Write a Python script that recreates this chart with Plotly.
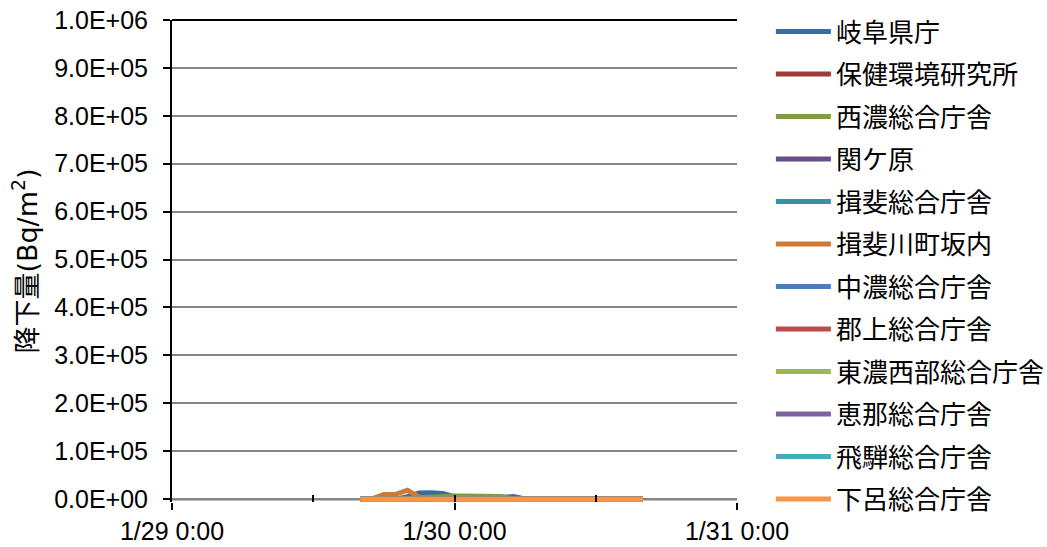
import plotly.graph_objects as go
import pandas as pd

# ---- data ----
TIMES = pd.date_range("2011-01-29 16:00", "2011-01-30 16:00", freq="h")

SERIES_NAMES = ["岐阜県庁", "保健環境研究所", "西濃総合庁舎", "関ケ原", "揖斐総合庁舎",
                "揖斐川町坂内", "中濃総合庁舎", "郡上総合庁舎", "東濃西部総合庁舎",
                "恵那総合庁舎", "飛騨総合庁舎", "下呂総合庁舎"]

#            16   17   18    19    20     21     22     23     0     1     2     3     4     5     6    7    8    9    10   11   12   13   14   15   16
gifu     = [0, 0, 0, 0, 5000, 13000, 13500, 12000, 5000, 2000, 1500, 1500, 4000, 5500, 500, 0, 0, 0, 0, 0, 0, 0, 0, 0, 0]
hoken    = [0, 0, 0, 0, 500, 800, 600, 500, 400, 300, 200, 200, 100, 100, 0, 0, 0, 0, 0, 0, 0, 0, 0, 0, 0]
seino    = [0, 0, 0, 0, 1000, 3000, 5000, 6000, 6500, 6500, 6500, 6000, 5500, 500, 0, 0, 0, 0, 0, 0, 0, 0, 0, 0, 0]
sekigahara = [0, 0, 0, 0, 500, 1000, 1000, 800, 500, 400, 300, 200, 100, 0, 0, 0, 0, 0, 0, 0, 0, 0, 0, 0, 0]
ibi      = [0, 0, 0, 500, 1500, 1500, 1000, 800, 600, 400, 300, 200, 100, 0, 0, 0, 0, 0, 0, 0, 0, 0, 0, 0, 0]
sakauchi = [0, 500, 9500, 10000, 18500, 4000, 0, 0, 0, 0, 0, 0, 0, 0, 0, 0, 0, 0, 0, 0, 0, 0, 0, 0, 0]
chuno    = [0, 0, 0, 0, 500, 1000, 1500, 1500, 1000, 800, 500, 300, 200, 100, 0, 0, 0, 0, 0, 0, 0, 0, 0, 0, 0]
gujo     = [0, 0, 0, 0, 300, 500, 800, 600, 400, 300, 200, 100, 0, 0, 0, 0, 0, 0, 0, 0, 0, 0, 0, 0, 0]
tono     = [0, 0, 0, 0, 0, 200, 400, 600, 800, 600, 400, 200, 100, 0, 0, 0, 0, 0, 0, 0, 0, 0, 0, 0, 0]
ena      = [0, 0, 0, 0, 0, 100, 300, 500, 600, 500, 300, 200, 100, 0, 0, 0, 0, 0, 0, 0, 0, 0, 0, 0, 0]
hida     = [0, 0, 0, 0, 0, 100, 200, 300, 300, 200, 100, 100, 0, 0, 0, 0, 0, 0, 0, 0, 0, 0, 0, 0, 0]
gero     = [0, 0, 0, 0, 0, 0, 100, 200, 200, 200, 100, 0, 0, 0, 0, 0, 0, 0, 0, 0, 0, 0, 0, 0, 0]

SERIES_VALUES = [gifu, hoken, seino, sekigahara, ibi, sakauchi, chuno, gujo, tono, ena, hida, gero]

COLORS = ["#3C6AA5", "#9E3B38", "#7E9D45", "#664F88", "#3792A8", "#CF7A33",
          "#4A7EBB", "#BE4B48", "#98B954", "#7D60A0", "#46AAC5", "#F79646"]

Y_TICK_VALUES = [0, 100000, 200000, 300000, 400000, 500000, 600000, 700000, 800000, 900000, 1000000]
Y_TICK_LABELS = ["0.0E+00", "1.0E+05", "2.0E+05", "3.0E+05", "4.0E+05", "5.0E+05",
                 "6.0E+05", "7.0E+05", "8.0E+05", "9.0E+05", "1.0E+06"]
# small padding below zero so the thick zero-level lines are not clipped in half
Y_RANGE = [-6000, 1000000]

X_RANGE = ["2011-01-29 00:00", "2011-01-31 00:00"]
X_TICK_VALUES = ["2011-01-29 00:00", "2011-01-30 00:00", "2011-01-31 00:00"]
X_TICK_LABELS = ["1/29 0:00", "1/30 0:00", "1/31 0:00"]
X_INNER_TICK_STEP_MS = 12 * 3600 * 1000

FONT = "Liberation Sans, Arial, Noto Sans CJK JP"

fig = go.Figure()
# invisible helper so the overlaid tick-only axis (inner ticks) is drawn
fig.add_trace(go.Scatter(x=TIMES, y=SERIES_VALUES[-1], xaxis="x2", mode="none",
                         showlegend=False, hoverinfo="skip"))
for name, vals, col in zip(SERIES_NAMES, SERIES_VALUES, COLORS):
    fig.add_trace(go.Scatter(x=TIMES, y=vals, name=name, mode="lines",
                             line=dict(color=col, width=5), legendgroup=name))

fig.update_layout(
    width=1047, height=547,
    margin=dict(l=172, r=310, t=19.5, b=44.6, pad=0, autoexpand=False),
    paper_bgcolor="white", plot_bgcolor="white",
    font=dict(family=FONT, size=24, color="black"),
    showlegend=True,
    legend=dict(x=1.06, y=1.0247, xanchor="left", yanchor="top",
                font=dict(family="Noto Sans CJK JP", size=26, color="black"),
                tracegroupgap=5.7, itemwidth=55, maxheight=1,
                bgcolor="rgba(0,0,0,0)"),
    xaxis=dict(type="date", range=X_RANGE, tickmode="array",
               tickvals=X_TICK_VALUES, ticktext=X_TICK_LABELS,
               showgrid=False, zeroline=False, automargin=False,
               showline=False,
               ticks="outside", ticklen=7, tickwidth=2, tickcolor="black",
               tickfont=dict(family=FONT, size=25), ticklabelstandoff=0),
    xaxis2=dict(type="date", range=X_RANGE, overlaying="x", anchor="y", side="bottom",
                tickmode="linear", tick0=X_RANGE[0], dtick=X_INNER_TICK_STEP_MS,
                showticklabels=False, showgrid=False, zeroline=False, showline=False,
                automargin=False, ticks="inside", ticklen=7, tickwidth=2, tickcolor="black"),
    yaxis=dict(range=Y_RANGE, tickmode="array",
               tickvals=Y_TICK_VALUES, ticktext=Y_TICK_LABELS,
               showgrid=True, gridcolor="#868686", gridwidth=2, automargin=False,
               zeroline=False, showline=True, linecolor="black", linewidth=2,
               ticks="outside", ticklen=7, tickwidth=2, tickcolor="black",
               tickfont=dict(family=FONT, size=25), ticklabelstandoff=10,
               title=dict(text="降下量(Bq/m<sup>2</sup>)", standoff=9,
                          font=dict(family="DejaVu Sans, Noto Sans CJK JP", size=27))),
)

# horizontal axis line at the zero level, and the dark top border line
fig.add_shape(type="line", xref="x domain", yref="y", x0=0, x1=1, y0=0, y1=0,
              layer="below", line=dict(color="black", width=2))
fig.add_shape(type="line", xref="x domain", yref="y domain", x0=0, x1=1, y0=1, y1=1,
              layer="below", line=dict(color="black", width=2))

fig.write_html("out.html")
